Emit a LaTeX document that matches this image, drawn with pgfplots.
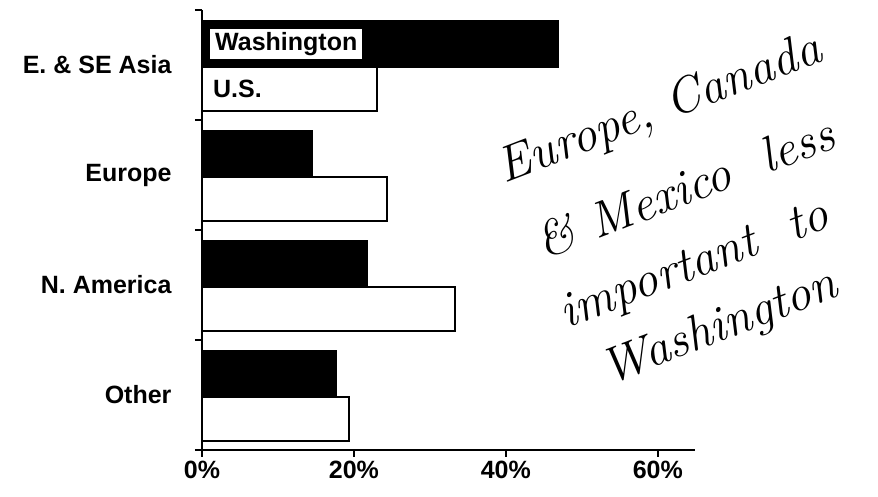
\documentclass[border=0pt]{standalone}
\usepackage{fontspec}
\setsansfont{Liberation Sans}
\usepackage{pgfplots}
\pgfplotsset{compat=1.18}
\begin{document}
\begin{tikzpicture}
\begin{axis}[
  at={(0pt,0pt)}, anchor=south west,
  scale only axis, width=493pt, height=440pt,
  xmin=0, xmax=64.9, ymin=-0.5, ymax=3.5,
  axis line style={draw=none},
  xtick pos=left, ytick pos=left,
  tick align=outside,
  major tick length=7pt,
  xtick={0,20,40,60},
  xtick style={line width=2.4pt, black},
  xticklabel={\pgfmathprintnumber{\tick}\%},
  /pgf/number format/assume math mode=true,
  xticklabel style={font=\sffamily\bfseries\fontsize{25}{30}\selectfont, yshift=-1pt},
  ytick={-0.5,0.5,1.5,2.5,3.5},
  yticklabels={},
  ytick style={line width=2.4pt, black},
  clip=false,
]
\addplot[xbar, bar width=0.42, bar shift=0.19, fill=black, draw=black, line width=2pt]
  coordinates {(46.8,3) (14.5,2) (21.7,1) (17.6,0)};
\addplot[xbar, bar width=0.40, bar shift=-0.22, fill=white, draw=black, line width=2pt]
  coordinates {(23.0,3) (24.3,2) (33.3,1) (19.3,0)};
\draw[line width=2.6pt, black] (axis cs:0,3.5) -- (axis cs:0,-0.5) -- (axis cs:64.9,-0.5);
\begin{scope}[every node/.style={anchor=east, xshift=-27pt,
      font=\sffamily\bfseries\fontsize{25}{30}\selectfont}]
\node at (axis cs:0,3) {E. \& SE Asia};
\node at (axis cs:0,2) {Europe};
\node at (axis cs:0,1) {N. America};
\node at (axis cs:0,0) {Other};
\end{scope}
\node[fill=white, anchor=west, inner xsep=5pt, inner ysep=3.5pt,
      font=\sffamily\bfseries\fontsize{25}{30}\selectfont]
  at (axis cs:0,3.19) [xshift=8pt] {Washington};
\node[anchor=west, inner xsep=0pt,
      font=\sffamily\bfseries\fontsize{25}{30}\selectfont]
  at (axis cs:0,2.78) [xshift=11pt] {U.S.};
\end{axis}
\begin{scope}[every node/.style={rotate=21, font=\itshape\fontsize{50}{58}\selectfont}]
\node at (458pt,340pt) {Europe, Canada};
\node at (483pt,263pt) {\& Mexico \ less};
\node at (493pt,183pt) {important \ to};
\node at (518pt,121pt) {Washington};
\end{scope}
\pgfresetboundingbox
\path[use as bounding box] (-202pt,-47pt) rectangle (676pt,450pt);
\end{tikzpicture}
\end{document}
